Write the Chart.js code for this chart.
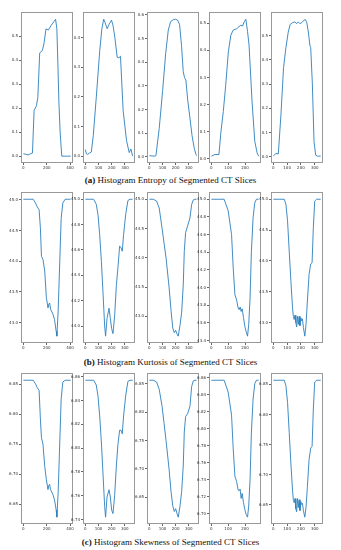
<!DOCTYPE html>
<html>
<head>
<meta charset="utf-8">
<script src="https://cdn.jsdelivr.net/npm/chart.js@4.4.0/dist/chart.umd.min.js"></script>
<style>
  html, body { margin: 0; padding: 0; background: #fff; }
  #fig { position: relative; width: 341px; height: 550px; overflow: hidden; }
  #fig canvas { position: absolute; }
  .cap { position: absolute; left: 0; width: 341px; text-align: center; font-family: "Liberation Serif", serif; font-size: 9px; line-height: 10px; color: #111; }
</style>
</head>
<body>
<div id="fig">
  <div class="cap" style="top:175px"><b>(a)</b> Histogram Entropy of Segmented CT Slices</div>
  <div class="cap" style="top:357px"><b>(b)</b> Histogram Kurtosis of Segmented CT Slices</div>
  <div class="cap" style="top:537px"><b>(c)</b> Histogram Skewness of Segmented CT Slices</div>
</div>
<script>
// slice positions (x) and entropy values, row (a)
const entropyX1 = [0, 20, 40, 60, 78, 92, 112, 124, 140, 163, 177, 194, 214, 239, 262, 276, 287, 296, 304, 315, 329, 350, 380, 405];
const entropyY1 = [0.010, 0.008, 0.005, 0.010, 0.013, 0.19, 0.21, 0.245, 0.43, 0.44, 0.47, 0.53, 0.525, 0.545, 0.56, 0.57, 0.53, 0.38, 0.23, 0.10, 0.0, 0.0, 0.0, 0.0];
const entropyX2 = [0, 8, 18, 30, 45, 60, 83, 109, 125, 139, 150, 165, 180, 198, 210, 223, 241, 254, 266, 286, 312, 332, 345, 358];
const entropyY2 = [0.022, 0.008, 0.006, 0.010, 0.014, 0.07, 0.20, 0.357, 0.43, 0.462, 0.45, 0.43, 0.445, 0.459, 0.44, 0.402, 0.334, 0.332, 0.337, 0.154, 0.052, 0.012, 0.024, 0.0];
const entropyX3 = [0, 20, 40, 50, 75, 101, 124, 144, 162, 182, 200, 215, 230, 245, 258, 268, 278, 292, 309, 325, 342, 355, 360];
const entropyY3 = [0.005, 0.004, 0.003, 0.005, 0.12, 0.28, 0.436, 0.536, 0.572, 0.58, 0.582, 0.578, 0.56, 0.47, 0.36, 0.335, 0.325, 0.24, 0.164, 0.09, 0.036, 0.01, 0.005];
const entropyX4 = [0, 21, 45, 57, 71, 85, 101, 116, 130, 150, 163, 175, 185, 195, 205, 215, 224, 242, 258, 272, 281];
const entropyY4 = [0.010, 0.016, 0.016, 0.10, 0.175, 0.27, 0.395, 0.457, 0.475, 0.48, 0.487, 0.493, 0.49, 0.505, 0.515, 0.47, 0.42, 0.21, 0.065, 0.022, 0.010];
const entropyX5 = [0, 19, 36, 55, 74, 91, 108, 122, 139, 156, 170, 180, 192, 204, 218, 230, 242, 254, 265, 271, 283, 295, 307, 320, 343];
const entropyY5 = [0.004, 0.014, 0.012, 0.174, 0.368, 0.45, 0.514, 0.546, 0.553, 0.556, 0.549, 0.556, 0.549, 0.552, 0.56, 0.567, 0.555, 0.514, 0.46, 0.45, 0.30, 0.063, 0.007, 0.003, 0.003];

// slice positions shared by kurtosis (b) and skewness (c)
const sliceX1 = [0, 40, 84, 104, 118, 135, 146, 155, 168, 183, 197, 211, 218, 225, 233, 253, 267, 281, 287, 298, 310, 324, 338, 358, 405];
const sliceX2 = [0, 20, 63, 83, 96, 109, 122, 134, 147, 154, 165, 180, 190, 200, 210, 223, 236, 248, 261, 271, 281, 291, 307, 324, 340, 360];
const sliceX3 = [0, 30, 55, 75, 97, 112, 127, 150, 165, 178, 190, 200, 210, 220, 233, 246, 258, 266, 276, 291, 309, 322, 335, 347, 360];
const sliceX4 = [0, 40, 76, 100, 120, 130, 140, 150, 159, 165, 171, 177, 183, 191, 199, 207, 215, 222, 230, 238, 248, 258, 268, 281];
const sliceX5 = [0, 40, 79, 91, 103, 115, 127, 139, 145, 151, 157, 163, 169, 175, 181, 187, 193, 199, 205, 211, 218, 228, 237, 247, 259, 271, 281, 290, 300, 314, 343];

const kurtosisY1 = [45.01, 45.01, 45.01, 44.95, 44.89, 44.84, 44.54, 44.08, 44.03, 43.84, 43.41, 43.24, 43.30, 43.32, 43.22, 43.14, 43.05, 42.86, 42.78, 43.19, 43.89, 44.70, 44.95, 45.01, 45.01];
const kurtosisY2 = [45.0, 45.0, 45.0, 44.96, 44.88, 44.72, 44.51, 44.27, 44.0, 43.92, 44.06, 44.14, 44.06, 43.98, 43.94, 44.08, 44.32, 44.46, 44.63, 44.62, 44.59, 44.72, 44.88, 44.99, 45.0, 45.0];
const kurtosisY3 = [45.0, 45.0, 44.97, 44.85, 44.5, 44.25, 44.0, 43.5, 43.1, 42.8, 42.72, 42.76, 42.7, 42.66, 42.84, 43.07, 43.53, 44.11, 44.43, 44.54, 44.68, 44.91, 44.99, 45.0, 45.0];
const kurtosisY4 = [45.0, 45.0, 45.0, 44.87, 44.6, 44.22, 43.92, 43.86, 43.77, 43.75, 43.78, 43.73, 43.76, 43.66, 43.56, 43.5, 43.45, 43.58, 43.88, 44.41, 44.79, 44.96, 45.0, 45.0];
const kurtosisY5 = [45.0, 45.0, 45.0, 44.92, 44.65, 44.16, 43.68, 43.24, 43.10, 43.05, 43.12, 43.0, 42.93, 43.1, 42.97, 43.1, 42.95, 43.08, 43.03, 43.06, 42.92, 42.78, 42.97, 43.35, 43.78, 43.95, 43.97, 44.54, 44.97, 45.0, 45.0];

const skewnessY1 = [6.857, 6.857, 6.857, 6.851, 6.845, 6.840, 6.792, 6.761, 6.750, 6.713, 6.691, 6.674, 6.681, 6.683, 6.674, 6.666, 6.657, 6.640, 6.628, 6.669, 6.742, 6.826, 6.854, 6.857, 6.857];
const skewnessY2 = [6.857, 6.857, 6.857, 6.853, 6.844, 6.827, 6.805, 6.779, 6.751, 6.742, 6.759, 6.765, 6.759, 6.748, 6.745, 6.760, 6.785, 6.803, 6.815, 6.815, 6.812, 6.827, 6.844, 6.856, 6.857, 6.857];
const skewnessY3 = [6.856, 6.856, 6.853, 6.840, 6.810, 6.780, 6.750, 6.700, 6.660, 6.635, 6.625, 6.630, 6.622, 6.615, 6.634, 6.660, 6.705, 6.765, 6.792, 6.797, 6.810, 6.845, 6.855, 6.856, 6.856];
const skewnessY4 = [6.857, 6.857, 6.857, 6.843, 6.816, 6.776, 6.744, 6.738, 6.728, 6.727, 6.729, 6.718, 6.724, 6.713, 6.705, 6.699, 6.696, 6.709, 6.740, 6.796, 6.835, 6.853, 6.857, 6.857];
const skewnessY5 = [6.857, 6.857, 6.857, 6.848, 6.820, 6.770, 6.719, 6.674, 6.657, 6.653, 6.660, 6.643, 6.638, 6.660, 6.645, 6.658, 6.640, 6.655, 6.650, 6.652, 6.640, 6.629, 6.645, 6.680, 6.725, 6.744, 6.747, 6.809, 6.854, 6.857, 6.857];

// tick labels
const xTicks400 = [0, 200, 400];
const xTicks300 = [0, 100, 200, 300];
const xTicks200 = [0, 100, 200];
const entropyTicks5 = [0, 0.1, 0.2, 0.3, 0.4, 0.5];
const entropyTicks4 = [0, 0.1, 0.2, 0.3, 0.4];
const entropyTicks6 = [0, 0.1, 0.2, 0.3, 0.4, 0.5, 0.6];
const kurtTicksHalf = [43.0, 43.5, 44.0, 44.5, 45.0];
const kurtTicks2 = [44.0, 44.2, 44.4, 44.6, 44.8, 45.0];
const kurtTicks4 = [43.4, 43.6, 43.8, 44.0, 44.2, 44.4, 44.6, 44.8, 45.0];
const skewTicks5 = [6.65, 6.70, 6.75, 6.80, 6.85];
const skewTicks2 = [6.74, 6.76, 6.78, 6.80, 6.82, 6.84, 6.86];
const skewTicks4 = [6.70, 6.72, 6.74, 6.76, 6.78, 6.80, 6.82, 6.84, 6.86];

// layout of the 3x5 grid
const colLeft = [21, 83, 147, 209, 271];
const rowTop = [12, 192, 373];
const plotW = 52, plotH = 151;
const padL = 13, padT = 3, padR = 2, padB = 9;

const fig = document.getElementById("fig");

const frame = {
  id: "frame",
  afterDraw: (chart) => {
    const { ctx, chartArea: a } = chart;
    ctx.save();
    ctx.strokeStyle = "#999";
    ctx.lineWidth = 1;
    ctx.strokeRect(Math.round(a.left) + 0.5, Math.round(a.top) + 0.5, Math.round(a.right - a.left) - 1, Math.round(a.bottom - a.top) - 1);
    ctx.restore();
  },
};

const tickFont = { family: "DejaVu Sans", size: 4 };

const makePanel = (xs, ys, xTicks, yTicks, digits, col, row) => {
  const canvas = document.createElement("canvas");
  canvas.width = plotW + padL + padR;
  canvas.height = plotH + padT + padB;
  canvas.style.left = colLeft[col] - padL + "px";
  canvas.style.top = rowTop[row] - padT + "px";
  fig.appendChild(canvas);

  const n = xs[xs.length - 1];
  const lo = Math.min(...ys);
  const hi = Math.max(...ys);
  const m = (hi - lo) * 0.05;

  return new Chart(canvas, {
    type: "line",
    data: {
      datasets: [
        {
          data: xs.map((x, i) => ({ x, y: ys[i] })),
          borderColor: "#2b7fbd",
          borderWidth: 0.9,
          pointRadius: 0,
          tension: 0,
        },
      ],
    },
    options: {
      responsive: false,
      animation: false,
      events: [],
      layout: { padding: { top: padT, right: padR, left: 0, bottom: 0 } },
      plugins: { legend: { display: false }, tooltip: { enabled: false } },
      scales: {
        x: {
          type: "linear",
          min: -0.05 * n,
          max: 1.05 * n,
          afterFit: (s) => { s.height = padB; },
          afterBuildTicks: (s) => { s.ticks = xTicks.map((v) => ({ value: v })); },
          ticks: { font: tickFont, color: "#333", padding: 1, maxRotation: 0, autoSkip: false, callback: (v) => String(v) },
          grid: { drawOnChartArea: false, tickLength: 2, color: "#666" },
          border: { display: false },
        },
        y: {
          type: "linear",
          min: lo - m,
          max: hi + m,
          afterFit: (s) => { s.width = padL; },
          afterBuildTicks: (s) => { s.ticks = yTicks.map((v) => ({ value: v })); },
          ticks: { font: tickFont, color: "#333", padding: 1, autoSkip: false, callback: (v) => v.toFixed(digits) },
          grid: { drawOnChartArea: false, tickLength: 2, color: "#666" },
          border: { display: false },
        },
      },
    },
    plugins: [frame],
  });
};

// row (a) entropy
makePanel(entropyX1, entropyY1, xTicks400, entropyTicks5, 1, 0, 0);
makePanel(entropyX2, entropyY2, xTicks300, entropyTicks4, 1, 1, 0);
makePanel(entropyX3, entropyY3, xTicks300, entropyTicks6, 1, 2, 0);
makePanel(entropyX4, entropyY4, xTicks200, entropyTicks5, 1, 3, 0);
makePanel(entropyX5, entropyY5, xTicks300, entropyTicks5, 1, 4, 0);

// row (b) kurtosis
makePanel(sliceX1, kurtosisY1, xTicks400, kurtTicksHalf, 1, 0, 1);
makePanel(sliceX2, kurtosisY2, xTicks300, kurtTicks2, 1, 1, 1);
makePanel(sliceX3, kurtosisY3, xTicks300, kurtTicksHalf, 1, 2, 1);
makePanel(sliceX4, kurtosisY4, xTicks200, kurtTicks4, 1, 3, 1);
makePanel(sliceX5, kurtosisY5, xTicks300, kurtTicksHalf, 1, 4, 1);

// row (c) skewness
makePanel(sliceX1, skewnessY1, xTicks400, skewTicks5, 2, 0, 2);
makePanel(sliceX2, skewnessY2, xTicks300, skewTicks2, 2, 1, 2);
makePanel(sliceX3, skewnessY3, xTicks300, skewTicks5, 2, 2, 2);
makePanel(sliceX4, skewnessY4, xTicks200, skewTicks4, 2, 3, 2);
makePanel(sliceX5, skewnessY5, xTicks300, skewTicks5, 2, 4, 2);
</script>
</body>
</html>
